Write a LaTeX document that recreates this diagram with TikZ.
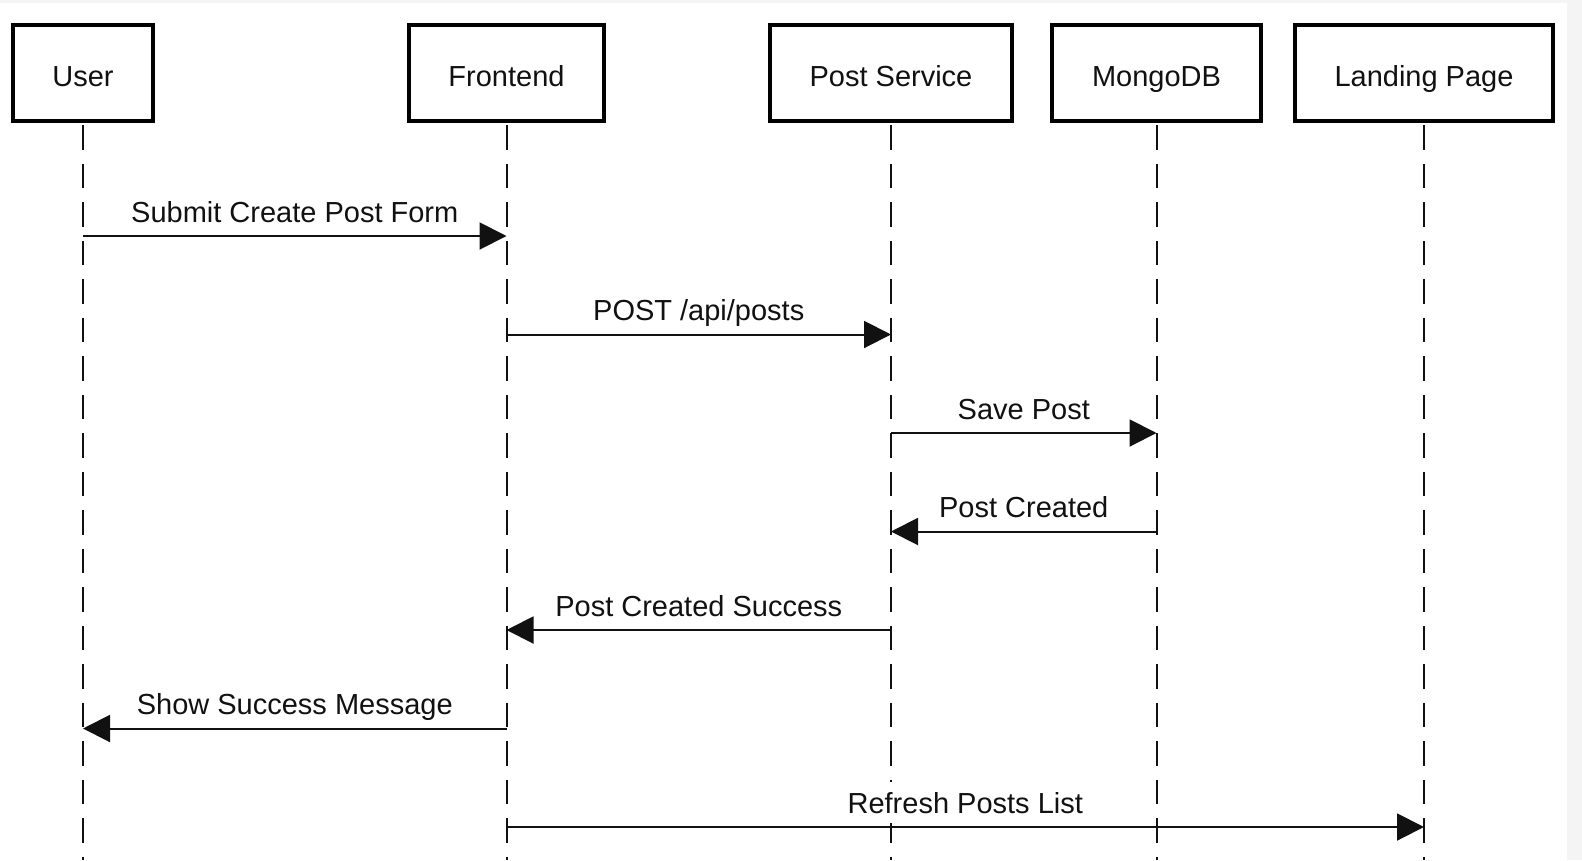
\documentclass[tikz,border=0pt]{standalone}
\usepackage{fontspec}
\setmainfont{Liberation Sans}
\usetikzlibrary{arrows.meta}
\definecolor{edgegray}{HTML}{F4F4F4}
\definecolor{ink}{HTML}{111111}
\begin{document}
\begin{tikzpicture}[x=1pt,y=-1pt,
  every node/.style={font=\fontsize{29}{35}\selectfont, text=ink},
  actor/.style={draw=black, line width=4.5pt, fill=white, minimum height=96pt, inner sep=0pt, text height=26pt, text depth=0pt},
  lifeline/.style={draw=ink, line width=2pt, dash pattern=on 24.5pt off 14pt},
  msg/.style={draw=ink, line width=2pt, -{Triangle[length=27pt,width=27pt]}},
  msglabel/.style={anchor=base, yshift=14pt, fill=white, inner xsep=4pt, inner ysep=10pt, text height=21pt, text depth=0pt}
]
\useasboundingbox (0,0) rectangle (1582,860);
\fill[edgegray] (0,0) rectangle (1582,860);
\fill[white] (0,3) rectangle (1567,860);

% actors
\node[actor, minimum width=140pt] (user) at (83,73) {User};
\node[actor, minimum width=195pt] (fe) at (506.5,73) {Frontend};
\node[actor, minimum width=242pt] (ps) at (891,73) {Post Service};
\node[actor, minimum width=209pt] (db) at (1156.5,73) {MongoDB};
\node[actor, minimum width=258pt] (lp) at (1424,73) {Landing Page};

% lifelines
\foreach \a in {user,fe,ps,db,lp}{
  \coordinate (\a-top) at ([yshift=-2pt]\a.south);
  \coordinate (\a-end) at (\a.south |- 0,860);
  \draw[lifeline] (\a-top) -- (\a-end);
}

% messages
\draw[msg] (user |- 0,236) -- (fe |- 0,236) node[midway, msglabel] {Submit Create Post Form};
\draw[msg] (fe |- 0,334.5) -- (ps |- 0,334.5) node[midway, msglabel] {POST /api/posts};
\draw[msg] (ps |- 0,433) -- (db |- 0,433) node[midway, msglabel] {Save Post};
\draw[msg] (db |- 0,531.5) -- (ps |- 0,531.5) node[midway, msglabel] {Post Created};
\draw[msg] (ps |- 0,630) -- (fe |- 0,630) node[midway, msglabel] {Post Created Success};
\draw[msg] (fe |- 0,728.5) -- (user |- 0,728.5) node[midway, msglabel] {Show Success Message};
\draw[msg] (fe |- 0,827) -- (lp |- 0,827) node[midway, msglabel] {Refresh Posts List};
\end{tikzpicture}
\end{document}
